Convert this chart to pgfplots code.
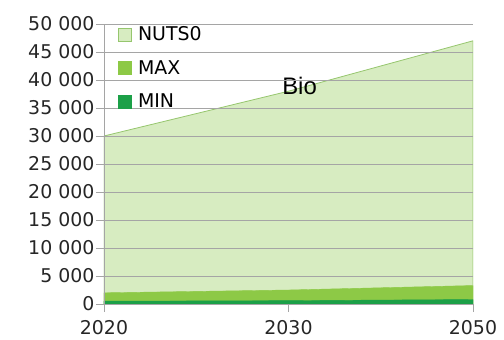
\documentclass[border=0pt]{standalone}
\usepackage{pgfplots}
\pgfplotsset{compat=1.18}
\usepackage{fontspec}
\setmainfont{DejaVu Sans}
\newfontfamily\arialfont{Liberation Sans}

\definecolor{nutsfill}{RGB}{198,228,166}
\definecolor{nutsline}{RGB}{150,198,110}
\definecolor{maxgreen}{RGB}{141,201,70}
\definecolor{mingreen}{RGB}{28,160,72}
\definecolor{gridgray}{RGB}{165,165,165}

\begin{document}
\begin{tikzpicture}
% frame so the page keeps the reference's size
\path (-104bp,-36bp) rectangle (400bp,304bp);
\begin{axis}[
    at={(0,0)}, anchor=south west,
    scale only axis, width=369bp, height=280bp,
    xmin=0, xmax=2, ymin=0, ymax=50000,
    xtick={0,1,2}, xticklabels={2020,2030,2050},
    ytick={0,5000,...,50000},
    scaled y ticks=false,
    /pgf/number format/assume math mode=true,
    yticklabel style={/pgf/number format/1000 sep={\ }, xshift=2bp},
    xticklabel style={yshift=-5bp},
    axis x line=bottom, axis y line=left,
    axis line style={gridgray,-, line width=0.8bp},
    tick style={gridgray, line width=0.8bp},
    major tick length=8bp, tick align=outside,
    ymajorgrids, grid style={gridgray, line width=0.8bp},
    axis on top,
    tick label style={font=\fontsize{19}{22}\selectfont, color=black!85},
    legend style={at={(0.03,1.005)}, anchor=north west, draw=none, fill=none,
        font=\fontsize{19}{22}\selectfont, row sep=14bp,
        /tikz/every odd column/.append style={column sep=4bp}},
    legend cell align=left,
    legend image code/.code={\draw[#1] (0bp,-6.5bp) rectangle (13bp,6.5bp);},
]
\addplot[draw=nutsline, fill=nutsfill, fill opacity=0.7, draw opacity=1, line width=0.8bp]
    coordinates {(0,30000) (1,38000) (2,47000)} \closedcycle;
\addlegendentry{NUTS0}
\addplot[draw=maxgreen, line width=0.4bp, fill=maxgreen]
    coordinates {(0,2000) (1,2500) (2,3300)} \closedcycle;
\addlegendentry{MAX}
\addplot[draw=mingreen, line width=0.4bp, fill=mingreen]
    coordinates {(0,500) (1,600) (2,800)} \closedcycle;
\addlegendentry{MIN}
\node[font=\arialfont\fontsize{24}{26}\selectfont] at (axis cs:1.06,39000) {Bio};
\end{axis}
\end{tikzpicture}
\end{document}
